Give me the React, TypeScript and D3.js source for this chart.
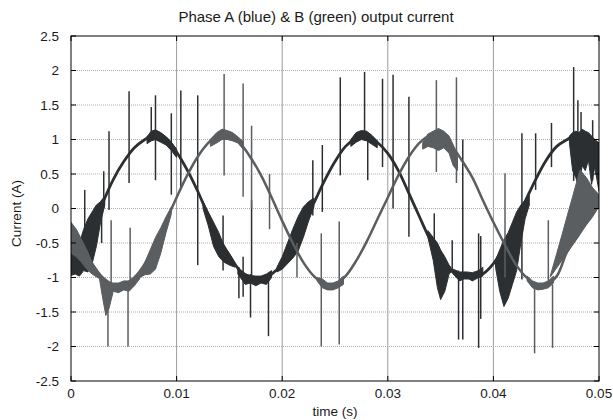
import React from 'react';
import * as d3 from 'd3';

const titleText = 'Phase A (blue) & B (green) output current';
const xLabelText = 'time (s)';
const yLabelText = 'Current (A)';
const xTicks = [0, 0.01, 0.02, 0.03, 0.04, 0.05];
const xTickLabels = ['0', '0.01', '0.02', '0.03', '0.04', '0.05'];
const yTicks = [2.5, 2, 1.5, 1, 0.5, 0, -0.5, -1, -1.5, -2, -2.5];
const yTickLabels = ['2.5', '2', '1.5', '1', '0.5', '0', '-0.5', '-1', '-1.5', '-2', '-2.5'];

// sample times (s), one per millisecond
const sampleTimes = d3.range(51).map((i) => i / 1000);

// Phase A (dark) values
const phaseA = [
  -0.82, -0.6, -0.3, 0.08, 0.42, 0.68, 0.88, 1.0, 1.08, 1.02,
  0.82, 0.56, 0.25, -0.1, -0.42, -0.68, -0.9, -1.0, -1.02, -0.95,
  -0.8, -0.55, -0.24, 0.08, 0.4, 0.68, 0.9, 1.02, 1.06, 0.96,
  0.8, 0.55, 0.22, -0.12, -0.45, -0.7, -0.9, -1.0, -1.0, -0.95,
  -0.8, -0.55, -0.22, 0.1, 0.42, 0.7, 0.9, 1.0, 1.08, 1.0,
  0.92,
];

// Phase B (gray) values
const phaseB = [
  -0.3, -0.55, -0.8, -1.0, -1.1, -1.1, -1.0, -0.8, -0.5, -0.18,
  0.16, 0.48, 0.75, 0.95, 1.08, 1.08, 0.95, 0.74, 0.48, 0.16,
  -0.18, -0.5, -0.78, -0.98, -1.1, -1.1, -0.98, -0.76, -0.48, -0.16,
  0.16, 0.48, 0.75, 0.95, 1.06, 1.05, 0.92, 0.7, 0.45, 0.12,
  -0.2, -0.5, -0.78, -0.98, -1.1, -1.1, -0.98, -0.62, -0.4, -0.15,
  0.1,
];

// switching ripple envelopes: [t, low, high]
const rippleA: number[][][] = [
  [[0, -0.97, -0.5], [0.0004, -0.95, -0.42], [0.0008, -0.98, -0.5], [0.0012, -0.9, -0.3], [0.0016, -0.92, -0.15], [0.002, -0.8, -0.05], [0.0024, -0.55, 0.05], [0.0028, -0.2, 0.1], [0.0032, 0.05, 0.18]],
  [[0.0072, 0.94, 1.04], [0.0076, 0.98, 1.12], [0.008, 1.0, 1.14], [0.0085, 0.96, 1.1], [0.009, 0.92, 1.04], [0.0095, 0.84, 0.96], [0.01, 0.74, 0.86]],
  [[0.0125, 0.0, 0.1], [0.013, -0.25, -0.05], [0.0135, -0.55, -0.2], [0.014, -0.7, -0.35], [0.0145, -0.78, -0.55], [0.015, -0.82, -0.65], [0.0155, -0.85, -0.78]],
  [[0.0158, -0.95, -0.88], [0.0165, -1.1, -0.95], [0.017, -1.08, -0.97], [0.0175, -1.12, -0.98], [0.018, -1.08, -0.98], [0.0185, -1.1, -0.95], [0.019, -1.0, -0.9]],
  [[0.0195, -0.92, -0.85], [0.02, -0.88, -0.7], [0.0205, -0.8, -0.5], [0.021, -0.72, -0.3], [0.0215, -0.62, -0.12], [0.022, -0.42, 0.02], [0.0225, -0.18, 0.1], [0.023, 0.02, 0.15]],
  [[0.0265, 0.9, 1.0], [0.027, 0.96, 1.1], [0.0275, 1.0, 1.13], [0.028, 0.98, 1.12], [0.0285, 0.93, 1.06], [0.029, 0.88, 0.98]],
  [[0.0338, -0.42, -0.32], [0.0343, -0.75, -0.42], [0.0347, -1.15, -0.5], [0.035, -1.32, -0.6], [0.0354, -1.2, -0.7], [0.0358, -0.95, -0.82], [0.036, -0.92, -0.86]],
  [[0.0362, -0.95, -0.88], [0.0368, -1.05, -0.92], [0.0375, -1.0, -0.92], [0.038, -1.05, -0.93], [0.0386, -1.0, -0.9], [0.039, -0.98, -0.85]],
  [[0.0402, -0.85, -0.75], [0.0406, -1.2, -0.6], [0.041, -1.42, -0.45], [0.0414, -1.3, -0.35], [0.0418, -1.1, -0.2], [0.0422, -0.9, -0.05], [0.0426, -0.5, 0.05], [0.043, -0.15, 0.12], [0.0434, 0.05, 0.2]],
  [[0.0472, 0.95, 1.05], [0.0475, 0.55, 1.1], [0.0478, 0.45, 1.12], [0.0481, 0.3, 1.1], [0.0484, 0.62, 1.15], [0.0487, 0.55, 1.12], [0.049, 0.7, 1.1], [0.0493, 0.35, 1.05], [0.0496, 0.6, 1.0], [0.05, 0.25, 0.95]],
];

const rippleB: number[][][] = [
  [[0, -0.65, -0.2], [0.0005, -0.7, -0.3], [0.001, -0.78, -0.45], [0.0015, -0.88, -0.6], [0.002, -0.95, -0.78], [0.0025, -1.0, -0.9], [0.0028, -1.02, -0.96]],
  [[0.0027, -1.02, -0.98], [0.003, -1.3, -1.02], [0.0033, -1.55, -1.05], [0.0036, -1.45, -1.08], [0.004, -1.2, -1.08], [0.0045, -1.22, -1.08], [0.005, -1.18, -1.05], [0.0055, -1.2, -1.05], [0.006, -1.12, -1.0], [0.0065, -1.02, -0.95]],
  [[0.0065, -1.0, -0.95], [0.007, -0.96, -0.78], [0.0075, -0.95, -0.6], [0.008, -0.88, -0.42], [0.0085, -0.65, -0.28], [0.009, -0.35, -0.12], [0.0095, -0.08, 0.02]],
  [[0.0132, 0.9, 1.0], [0.0138, 0.95, 1.1], [0.0143, 1.0, 1.15], [0.0148, 1.0, 1.13], [0.0153, 0.98, 1.1], [0.0158, 0.95, 1.04], [0.0163, 0.86, 0.97]],
  [[0.0233, -1.05, -1.0], [0.0238, -1.15, -1.02], [0.0243, -1.18, -1.08], [0.0248, -1.18, -1.08], [0.0253, -1.15, -1.05], [0.0258, -1.1, -0.98]],
  [[0.0333, 0.86, 0.95], [0.0338, 0.9, 1.08], [0.0343, 0.88, 1.12], [0.0348, 0.84, 1.16], [0.0353, 0.88, 1.12], [0.0358, 0.8, 1.05], [0.0362, 0.62, 0.92], [0.0366, 0.55, 0.75]],
  [[0.0432, -1.05, -0.98], [0.0437, -1.15, -1.05], [0.0442, -1.18, -1.08], [0.0447, -1.17, -1.08], [0.0452, -1.15, -1.05], [0.0457, -1.08, -0.98]],
  [[0.0454, -0.99, -0.97], [0.046, -0.86, -0.65], [0.0465, -0.75, -0.38], [0.047, -0.64, -0.1], [0.0475, -0.53, 0.17], [0.0482, -0.37, 0.56], [0.0488, -0.24, 0.45], [0.0494, -0.12, 0.3], [0.05, 0.03, 0.2]],
];

// spikes: [t, low, high]
const spikesA = [
  [0.0013, -0.9, 0.27], [0.0029, -0.5, 0.12], [0.0031, 0.0, 0.54], [0.0036, -0.02, 1.12],
  [0.0055, 0.37, 1.7], [0.0076, 1.0, 1.47], [0.008, 0.41, 1.64], [0.0095, 0.2, 1.38],
  [0.0104, 0.3, 1.71], [0.012, -0.82, 1.64], [0.0144, -0.9, -0.1], [0.0159, -1.3, -0.85],
  [0.0163, -1.28, -0.7], [0.017, -1.58, -0.95], [0.0171, -1.0, 0.12], [0.0187, -1.85, -0.95],
  [0.0229, -0.1, 0.7], [0.0238, -0.05, 0.92], [0.0255, 0.48, 1.9], [0.0278, 1.0, 1.98],
  [0.0281, 0.41, 1.05], [0.0295, 0.6, 1.88], [0.0305, 0.0, 1.94], [0.032, -0.41, 1.62],
  [0.0344, -0.6, -0.07], [0.0361, -0.9, -0.46], [0.0367, -1.9, -0.9], [0.0371, -1.9, 1.0],
  [0.0386, -2.02, -0.36], [0.0388, -1.6, -0.4], [0.0427, -1.03, 1.09], [0.044, 0.27, 1.09],
  [0.0455, 0.6, 1.24], [0.0476, 0.4, 2.05], [0.048, 0.6, 1.57], [0.0483, 0.8, 1.4],
  [0.0494, 0.41, 1.28],
];

const spikesB = [
  [0.0035, -2.0, -1.1], [0.0038, -1.1, -0.17], [0.0054, -2.0, -1.1], [0.0056, -1.1, -0.28],
  [0.0145, 0.48, 1.95], [0.0163, 0.17, 1.81], [0.0171, 0.0, 1.2], [0.0188, -0.3, 0.5],
  [0.0214, -1.0, -0.5], [0.0237, -2.0, -0.36], [0.0254, -1.97, -0.19], [0.0346, 0.53, 1.86],
  [0.0365, 0.37, 1.9], [0.0411, -1.0, 0.51], [0.0439, -2.1, -1.1], [0.0452, -1.1, -0.17],
  [0.0456, -2.02, -1.1],
];

const colorA = '#2c2f32';
const colorB = '#5b5e60';

const W = 613;
const H = 420;
const plotLeft = 71;
const plotRight = 599;
const plotTop = 36;
const plotBottom = 381;

export default function App() {
  const x = d3.scaleLinear().domain([0, 0.05]).range([plotLeft, plotRight]);
  const y = d3.scaleLinear().domain([-2.5, 2.5]).range([plotBottom, plotTop]);

  const line = d3
    .line<number>()
    .x((_, i) => x(sampleTimes[i]))
    .y((d) => y(d))
    .curve(d3.curveCatmullRom);

  const area = d3
    .area<number[]>()
    .x((d) => x(d[0]))
    .y0((d) => y(d[1]))
    .y1((d) => y(d[2]));

  const font = "'Liberation Sans', Arial, sans-serif";

  const renderSeries = (values: number[], ripple: number[][][], spikes: number[][], color: string, width: number) => (
    <g>
      {ripple.map((band, i) => (
        <path key={'r' + i} d={area(band) || ''} fill={color} stroke={color} strokeWidth={1} />
      ))}
      <path d={line(values) || ''} fill="none" stroke={color} strokeWidth={width} strokeLinejoin="round" />
      {spikes.map((s, i) => (
        <line key={'s' + i} x1={x(s[0])} x2={x(s[0])} y1={y(s[1])} y2={y(s[2])} stroke={color} strokeWidth={1.5} />
      ))}
    </g>
  );

  return (
    <svg width={W} height={H} style={{ position: 'absolute', left: 0, top: 0, background: '#fff' }}>
      <rect x={0} y={0} width={W} height={H} fill="#fff" />
      <defs>
        <clipPath id="plotclip">
          <rect x={plotLeft} y={plotTop} width={plotRight - plotLeft} height={plotBottom - plotTop} />
        </clipPath>
      </defs>
      {/* grid */}
      {xTicks.slice(1, -1).map((t) => (
        <line key={'gx' + t} x1={x(t)} x2={x(t)} y1={plotTop} y2={plotBottom} stroke="#9c9c9c" strokeWidth={1} />
      ))}
      {yTicks.slice(1, -1).map((t) => (
        <line key={'gy' + t} x1={plotLeft} x2={plotRight} y1={y(t)} y2={y(t)} stroke="#adadad" strokeWidth={1} strokeDasharray="1 1" />
      ))}
      <g clipPath="url(#plotclip)">
        {renderSeries(phaseA, rippleA, spikesA, colorA, 2.8)}
        {renderSeries(phaseB, rippleB, spikesB, colorB, 2.5)}
      </g>
      {/* axes box */}
      <rect x={plotLeft} y={plotTop} width={plotRight - plotLeft} height={plotBottom - plotTop} fill="none" stroke="#000" strokeWidth={1} />
      {xTicks.map((t) => (
        <g key={'tx' + t}>
          <line x1={x(t)} x2={x(t)} y1={plotBottom} y2={plotBottom - 5} stroke="#000" />
          <line x1={x(t)} x2={x(t)} y1={plotTop} y2={plotTop + 5} stroke="#000" />
        </g>
      ))}
      {yTicks.map((t) => (
        <g key={'ty' + t}>
          <line x1={plotLeft} x2={plotLeft + 5} y1={y(t)} y2={y(t)} stroke="#000" />
          <line x1={plotRight} x2={plotRight - 5} y1={y(t)} y2={y(t)} stroke="#000" />
        </g>
      ))}
      {/* tick labels */}
      {xTicks.map((t, i) => (
        <text key={'lx' + t} x={x(t)} y={398} textAnchor="middle" fontFamily={font} fontSize={13.5} fill="#1a1a1a">
          {xTickLabels[i]}
        </text>
      ))}
      {yTicks.map((t, i) => (
        <text key={'ly' + t} x={59} y={y(t) + 4.8} textAnchor="end" fontFamily={font} fontSize={13.5} fill="#1a1a1a">
          {yTickLabels[i]}
        </text>
      ))}
      <text x={(plotLeft + plotRight) / 2} y={416} textAnchor="middle" fontFamily={font} fontSize={13.5} fill="#1a1a1a">
        {xLabelText}
      </text>
      <text transform={`translate(21, ${(plotTop + plotBottom) / 2 + 5}) rotate(-90)`} textAnchor="middle" fontFamily={font} fontSize={13.5} fill="#1a1a1a">
        {yLabelText}
      </text>
      <text x={316} y={22} textAnchor="middle" fontFamily={font} fontSize={15} fill="#1a1a1a">
        {titleText}
      </text>
    </svg>
  );
}
